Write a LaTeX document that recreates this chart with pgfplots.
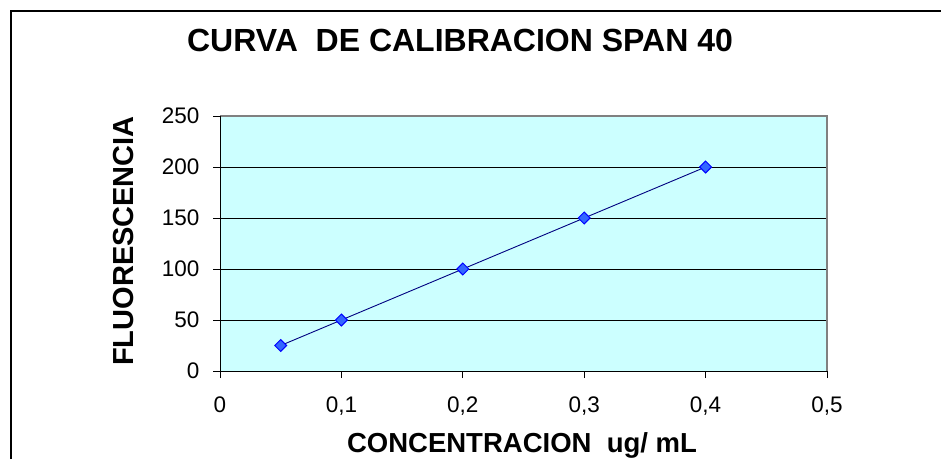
\documentclass[border=0pt]{standalone}
\usepackage{pgfplots}
\pgfplotsset{compat=1.18}
\usepackage{fontspec}
\setmainfont{Liberation Sans}

\definecolor{fondo}{HTML}{CCFFFF}
\definecolor{linea}{HTML}{000080}
\definecolor{marca}{HTML}{3366FF}
\definecolor{borde}{HTML}{0000FF}

\begin{document}
\begin{tikzpicture}
    % picture size in px-like units, 1pt = 1px
    \path[use as bounding box] (0pt,0pt) rectangle (941pt,-459pt);
    % outer chart frame (cut at right and bottom)
    \draw[line width=1.3pt] (11pt,-459pt) -- (11pt,-11pt) -- (941pt,-11pt);

    \begin{axis}[
            name=ax,
            at={(220pt,-371pt)},
            anchor=south west,
            scale only axis,
            width=607pt,
            height=255pt,
            xmin=0, xmax=0.5,
            ymin=0, ymax=250,
            xtick={0,0.1,0.2,0.3,0.4,0.5},
            ytick={0,50,100,150,200,250},
            tick pos=left,
            tick align=outside,
            major tick length=7pt,
            tick style={black, line width=0.8pt},
            axis line style={draw=none},
            axis background/.style={fill=fondo},
            ymajorgrids=true,
            grid style={black, line width=0.9pt},
            /pgf/number format/assume math mode=true,
            /pgf/number format/use comma,
            xticklabel style={font=\fontsize{22.5}{27}\selectfont, /pgf/number format/fixed, yshift=-15pt},
            yticklabel style={font=\fontsize{22.5}{27}\selectfont, xshift=-10pt},
            scaled ticks=false,
            clip=false,
        ]
        \addplot[color=linea, line width=0.9pt,
            mark=square*, mark size=4.2pt,
            mark options={rotate=45, fill=marca, draw=borde, line width=1pt}]
        coordinates {
            (0.05,25) (0.1,50) (0.2,100) (0.3,150) (0.4,200)
        };
    \end{axis}

    % axis box: black left/bottom, grey top/right
    \draw[color=gray, line width=1.5pt] (ax.north west) -- (ax.north east) -- (ax.south east);
    \draw[black, line width=0.9pt] (ax.north west) -- (ax.south west) -- (ax.south east);

    \node[anchor=base, font=\fontsize{32}{38}\selectfont\bfseries, inner sep=0pt]
        at (460pt,-51pt) {CURVA\ \ DE CALIBRACION SPAN 40};
    \node[anchor=base, font=\fontsize{27.5}{33}\selectfont\bfseries, inner sep=0pt]
        at (522pt,-452pt) {CONCENTRACION\ \ ug/ mL};
    \node[anchor=base, rotate=90, font=\fontsize{29}{34}\selectfont\bfseries, inner sep=0pt]
        at (133pt,-241pt) {FLUORESCENCIA};
\end{tikzpicture}
\end{document}
